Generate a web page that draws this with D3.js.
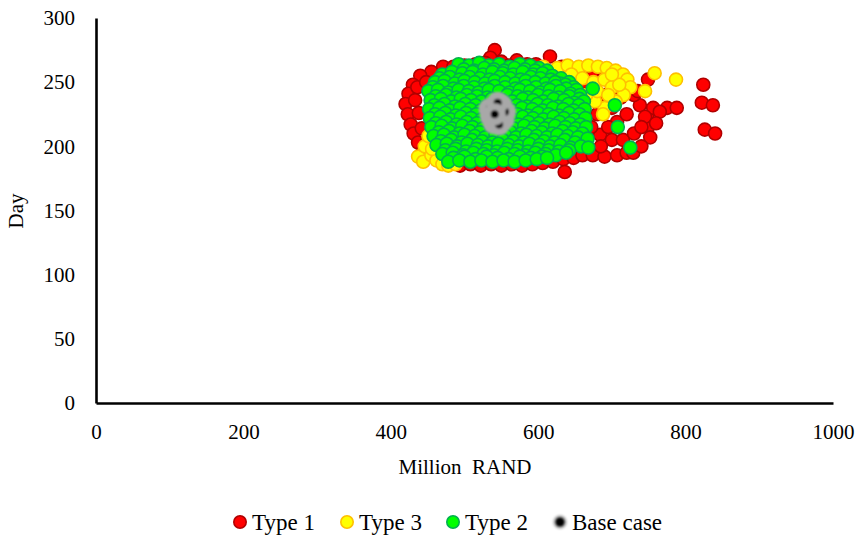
<!DOCTYPE html>
<html>
<head>
<meta charset="utf-8">
<script src="https://cdn.jsdelivr.net/npm/d3@7"></script>
<style>
  html, body { margin: 0; padding: 0; background: #fff; }
  svg { display: block; font-family: "Liberation Serif", "Times New Roman", serif; }
</style>
</head>
<body>
<svg id="chart" width="859" height="536"></svg>
<script>
// Type 1 (red) points: [Million RAND, Day]
const type1 = [
  [541,275],[535,269],[571,267],[616,270],[471,262],[455,258],[485,262],[500,263],[515,264],[528,265],
  [550,266],[560,263],[585,264],[597,264],[632,262],[645,259],[660,258],
  [440,255],[430,248],[424,241],[420,233],[423,225],[427,217],[431,210],[437,203],[444,197],[436,246],
  [433,236],[438,226],[442,214],[448,250],[450,205],
  [456,193],[466,190],[480,186],[494,185],[508,186],[522,185],[536,186],[550,185],[564,186],[578,185],
  [592,186],[606,187],[620,188],[634,190],[648,191],[660,193],[674,193],[690,192],[707,193],[720,195],
  [729,195],[636,180],
  [738,232],[748,223],[756,230],[775,230],[788,230],[749,215],[752,207],[765,227],[745,223],[749,252],
  [707,219],[684,209],[700,205],[715,205],[730,210],[740,200],[695,215],[720,225],[730,240],[712,238],
  [700,230],[690,240],[680,225],[672,215],[685,200],[740,215],[760,218],
  [824,248],[822,234],[837,232],[826,213],[840,210],
  [660,250],[675,255],[690,256],[705,250],[720,247],[735,243],[600,230],[560,220],[520,240]
];

// Type 3 (yellow) points
const type3 = [
  [607,262],[626,261],[640,263],[655,262],[668,263],[681,262],[693,261],[705,259],[715,256],[721,252],
  [725,246],[716,240],[705,235],[690,230],[688,225],[677,235],[665,240],[650,245],[638,250],[628,252],
  [645,256],[660,253],[675,250],[690,252],[700,246],[710,248],[680,243],[695,240],[615,255],[700,256],
  [758,257],[787,252],[745,243],
  [437,192],[446,200],[451,208],[444,188],[455,193],[462,189],[470,186],[478,185],[488,186],[456,198],
  [520,240],[560,220],[590,200],[530,205],[600,230],[550,250],[500,225],[620,215]
];

// Type 2 (green) points
const type2 = [
  [492,264],[506,263],[520,265],[533,263],[547,264],[561,262],[575,264],[589,263],[601,261],
  [499,260],[513,259],[527,261],[540,260],[554,259],[568,261],[582,260],[596,259],[612,259],
  [470,256],[483,258],[497,257],[511,258],[525,256],[538,258],[552,257],[566,256],[579,258],[593,256],
  [606,257],[619,255],[631,253],
  [466,253],[480,254],[493,252],[507,254],[521,253],[534,252],[548,254],[562,253],[576,252],[590,254],
  [603,253],[617,252],[630,249],[642,250],
  [460,250],[473,251],[487,249],[500,251],[514,250],[528,249],[541,251],[555,250],[569,249],[583,251],
  [596,250],[610,249],[623,250],[637,248],[648,246],
  [457,246],[471,247],[485,245],[499,247],[513,246],[527,245],[541,247],[555,246],[569,245],[583,247],
  [597,246],[611,245],[624,247],[638,245],[652,244],
  [451,243],[464,244],[478,242],[492,244],[506,243],[519,242],[533,244],[547,243],[561,242],[575,244],
  [589,243],[603,242],[616,244],[630,243],[644,241],[657,240],
  [461,239],[475,240],[489,238],[503,240],[517,239],[531,238],[558,240],[572,239],[586,238],[600,240],
  [614,239],[628,238],[642,239],[656,237],
  [454,236],[468,237],[482,235],[495,237],[509,236],[523,235],[537,237],[551,236],[565,235],[579,237],
  [593,236],[607,235],[621,237],[635,236],[649,234],[662,235],
  [459,232],[473,233],[487,231],[501,233],[515,232],[529,231],[557,233],[571,232],[585,231],[599,233],
  [613,232],[627,231],[641,233],[655,232],
  [452,229],[466,230],[480,228],[494,230],[508,229],[522,228],[536,230],[550,229],[564,228],[578,230],
  [592,229],[606,228],[620,230],[634,229],[648,228],[663,229],
  [460,225],[474,226],[488,224],[502,226],[516,225],[530,224],[558,226],[572,225],[586,224],[600,226],
  [614,225],[628,224],[642,226],[656,225],
  [453,222],[467,223],[481,221],[495,223],[509,222],[523,221],[537,223],[551,222],[565,221],[579,223],
  [593,222],[607,221],[621,223],[635,222],[649,221],[664,222],
  [461,218],[475,219],[489,217],[503,219],[517,218],[531,217],[545,219],[559,218],[573,217],[587,219],
  [601,218],[615,217],[629,219],[643,218],[657,217],
  [455,215],[469,216],[483,214],[497,216],[511,215],[525,214],[539,216],[553,215],[567,214],[581,216],
  [595,215],[609,214],[623,216],[637,215],[651,214],[665,215],
  [465,211],[479,212],[493,210],[507,212],[521,211],[535,210],[549,212],[563,211],[577,210],[591,212],
  [605,211],[619,210],[633,212],[647,211],[660,210],
  [458,208],[472,209],[486,207],[500,209],[514,208],[528,207],[542,209],[556,208],[570,207],[584,209],
  [598,208],[612,207],[626,209],[640,208],[654,207],[667,206],
  [468,204],[482,205],[496,203],[510,205],[524,204],[538,203],[552,205],[566,204],[580,203],[594,205],
  [608,204],[622,203],[636,205],[650,203],
  [462,201],[476,202],[490,200],[504,202],[518,201],[532,200],[546,202],[560,201],[574,200],[588,202],
  [602,201],[616,200],[630,201],[644,199],[658,200],
  [474,197],[488,198],[502,196],[516,198],[530,197],[544,196],[558,198],[572,197],[586,196],[600,198],
  [614,197],[628,196],[642,197],
  [470,194],[484,195],[498,193],[512,195],[526,194],[540,193],[554,195],[568,194],[582,193],[596,195],
  [610,194],[624,193],[638,195],
  [485,191],[500,192],[515,190],[530,192],[545,191],[560,190],[575,192],[590,191],[605,192],
  [478,188],[493,189],[508,188],[523,189],[538,188],[553,189],[568,188],[583,189],[598,190],[612,191],
  [674,245],[704,232],[708,215],[725,199],[668,199]
];

// Base case points
const baseCase = [
  [534,229],[553,221],[540,218],[550,232],[536,223],[555,227],[545,234],[547,217],[541,225]
];

const xTicks = [0, 200, 400, 600, 800, 1000];
const yTicks = [0, 50, 100, 150, 200, 250, 300];

const series = [
  { name: "Type 1", data: type1, fill: "#ff0000", stroke: "#b00000" },
  { name: "Type 3", data: type3, fill: "#ffff00", stroke: "#ffc000" },
  { name: "Type 2", data: type2, fill: "#00ff00", stroke: "#00b050" },
];

const margin = { top: 18, left: 96, right: 26, bottom: 133 };
const width = 859, height = 536;

const svg = d3.select("#chart");

const x = d3.scaleLinear().domain([0, 1000]).range([margin.left, width - margin.right]);
const y = d3.scaleLinear().domain([0, 300]).range([height - margin.bottom, margin.top]);

const defs = svg.append("defs");
defs.append("filter").attr("id", "soft")
  .attr("x", "-50%").attr("y", "-50%").attr("width", "200%").attr("height", "200%")
  .append("feGaussianBlur").attr("stdDeviation", 0.8);

// points
series.forEach(s => {
  svg.append("g")
    .selectAll("circle")
    .data(s.data)
    .join("circle")
    .attr("cx", d => x(d[0]))
    .attr("cy", d => y(d[1]))
    .attr("r", 6.5)
    .attr("fill", s.fill)
    .attr("stroke", s.stroke)
    .attr("stroke-width", 1.6);
});

// base case: black marker with a soft grey glow
const base = svg.append("g").attr("filter", "url(#soft)")
  .selectAll("g")
  .data(baseCase)
  .join("g")
  .attr("transform", d => `translate(${x(d[0])},${y(d[1])})`);
base.append("circle").attr("r", 11).attr("fill", "#a8a8a8");
base.append("circle").attr("r", 4).attr("fill", "#000");

// axes
const fontSize = 21;
const xAxis = svg.append("g")
  .attr("transform", `translate(0,${y(0)})`)
  .call(d3.axisBottom(x).tickValues(xTicks).tickSize(0).tickSizeOuter(0).tickPadding(21).tickFormat(d3.format("d")));
const yAxis = svg.append("g")
  .attr("transform", `translate(${x(0)},0)`)
  .call(d3.axisLeft(y).tickValues(yTicks).tickSize(0).tickSizeOuter(0).tickPadding(21).tickFormat(d3.format("d")));

[xAxis, yAxis].forEach(a => {
  a.select(".domain").attr("stroke", "#000").attr("stroke-width", 2.6);
  a.selectAll("text")
    .attr("font-family", "Liberation Serif, Times New Roman, serif")
    .attr("font-size", fontSize)
    .attr("fill", "#000");
});

// axis titles
svg.append("text")
  .attr("x", 465).attr("y", 474)
  .attr("text-anchor", "middle")
  .attr("font-size", fontSize)
  .attr("xml:space", "preserve")
  .text("Million  RAND");

svg.append("text")
  .attr("transform", "translate(23,211) rotate(-90)")
  .attr("text-anchor", "middle")
  .attr("font-size", fontSize)
  .text("Day");

// legend
const legendItems = [
  { name: "Type 1", fill: "#ff0000", stroke: "#b00000", x: 240 },
  { name: "Type 3", fill: "#ffff00", stroke: "#ffc000", x: 347 },
  { name: "Type 2", fill: "#00ff00", stroke: "#00b050", x: 453 },
  { name: "Base case", fill: "#000", stroke: null, x: 560 },
];
const legend = svg.append("g").attr("transform", "translate(0,522)");
const li = legend.selectAll("g").data(legendItems).join("g")
  .attr("transform", d => `translate(${d.x},0)`);
li.filter(d => d.stroke).append("circle")
  .attr("r", 6.2).attr("fill", d => d.fill).attr("stroke", d => d.stroke).attr("stroke-width", 1.6);
const lb = li.filter(d => !d.stroke);
lb.append("circle").attr("r", 7).attr("fill", "#bbb").attr("filter", "url(#soft)");
lb.append("circle").attr("r", 4.5).attr("fill", "#000").attr("filter", "url(#soft)");
li.append("text")
  .attr("x", 12).attr("y", 8)
  .attr("font-size", 23)
  .text(d => d.name);
</script>
</body>
</html>
